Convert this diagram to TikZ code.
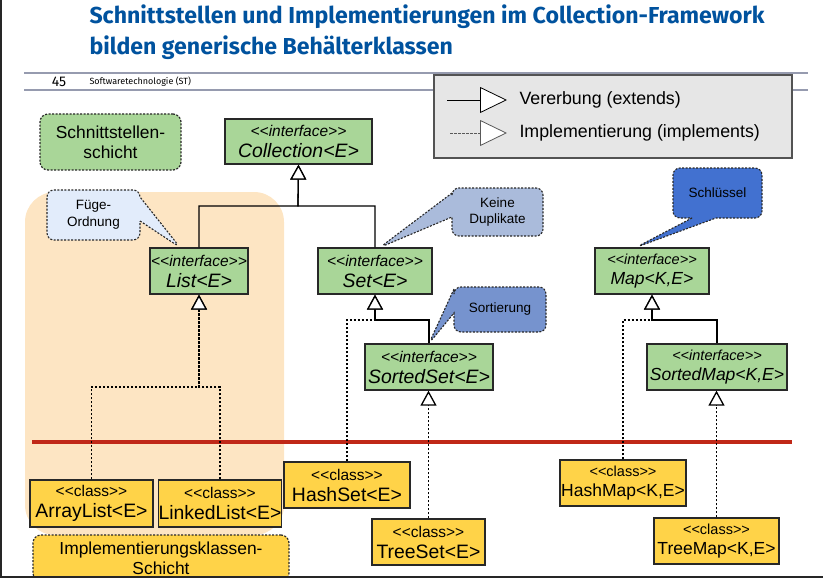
\documentclass[tikz,border=0pt]{standalone}
\usepackage{fontspec}
\setmainfont{Liberation Sans}[Ligatures=TeXOff]
\newfontfamily\headfont{Fira Sans}
\usetikzlibrary{arrows.meta,shapes.callouts}
\definecolor{tuBlue}{RGB}{0,82,158}
\definecolor{umlGreen}{RGB}{169,214,152}
\definecolor{umlYellow}{RGB}{255,211,72}
\definecolor{umlBorder}{RGB}{40,40,40}
\definecolor{layerPeach}{RGB}{253,229,195}
\definecolor{calLight}{RGB}{226,236,251}
\definecolor{calGray}{RGB}{170,187,219}
\definecolor{calMid}{RGB}{118,147,206}
\definecolor{calStrong}{RGB}{66,113,208}
\definecolor{layerRed}{RGB}{192,40,24}
\definecolor{legendGray}{RGB}{230,230,230}
\definecolor{headLine}{RGB}{150,155,175}
\newcommand{\stfont}{\fontsize{15.5}{21}\selectfont}
\newcommand{\nmfont}{\fontsize{19.4}{21}\selectfont}
\newcommand{\stmfont}{\fontsize{14.5}{20}\selectfont}
\newcommand{\nmmfont}{\fontsize{17.5}{20}\selectfont}

\begin{document}
\begin{tikzpicture}[
  x=1pt, y=-1pt,
  iface/.style={
    draw=umlBorder, line width=1.3pt, fill=umlGreen,
    inner sep=0pt, align=center, font=\itshape\stfont
  },
  cls/.style={
    draw=umlBorder, line width=1.3pt, fill=umlYellow,
    inner sep=0pt, align=center, font=\stfont
  },
  layer/.style={
    draw=umlBorder, dash pattern=on 2pt off 1.5pt, line width=1.2pt,
    rounded corners=8pt, inner sep=0pt, align=center,
    font=\fontsize{17.4}{20}\selectfont
  },
  note/.style={
    rectangle callout, draw=umlBorder, dash pattern=on 2pt off 1.5pt,
    line width=1.1pt, rounded corners=7pt, inner sep=0pt, align=center,
    callout pointer width=24pt, font=\fontsize{13.5}{16.5}\selectfont
  },
  ext/.style={-{Triangle[fill=white, length=15pt, width=16pt]},
    line width=1.3pt, draw=black},
  impl/.style={ext, dash pattern=on 2pt off 2pt},
]
\useasboundingbox (0,0) rectangle (823,578);
\clip (0,0) rectangle (823,578);

%% Slide header
\node[anchor=west, text=tuBlue, font=\headfont\bfseries\fontsize{23.1}{26}\selectfont]
  (title1) at (86,17) {Schnittstellen und Implementierungen im Collection-Framework};
\node[anchor=west, text=tuBlue, font=\headfont\bfseries\fontsize{23.1}{26}\selectfont]
  (title2) at (86,48) {bilden generische Behälterklassen};
\draw[headLine, line width=1.5pt] (24,73) -- (808,73);
\draw[headLine, line width=1.5pt] (24,90) -- (808,90);
\node[font=\headfont\fontsize{14}{16}\selectfont] (pageno) at (59,82) {45};
\node[anchor=west, font=\headfont\fontsize{9}{11}\selectfont] (course) at (86,82)
  {Softwaretechnologie (ST)};

%% Legend
\node[draw=umlBorder!80, line width=1.3pt, fill=legendGray, minimum width=358pt,
  minimum height=83pt, inner sep=0pt] (legend) at (613,116.5) {};
\coordinate (lg1a) at (447,100);
\coordinate (lg1b) at (507,100);
\coordinate (lg2a) at (450,133);
\coordinate (lg2b) at (507,133);
\draw[-{Triangle[fill=white, length=27pt, width=26pt]}, line width=0.8pt]
  (lg1a) -- (lg1b);
\draw[-{Triangle[fill=white, length=27pt, width=26pt]}, line width=0.8pt,
  draw=black!65, dash pattern=on 2.5pt off 1.5pt] (lg2a) -- (lg2b);
\node[anchor=west, font=\fontsize{17.8}{20}\selectfont] (lgext) at (516,100)
  {Vererbung (extends)};
\node[anchor=west, font=\fontsize{17.8}{20}\selectfont] (lgimpl) at (516,133)
  {Implementierung (implements)};

%% Layers
\node[fill=layerPeach, rounded corners=30pt, minimum width=259pt,
  minimum height=343pt, inner sep=0pt] (listbg) at (154.5,363.5) {};
\draw[layerRed, line width=4pt] (32,442) -- (792,442);
\node[layer, fill=umlGreen, minimum width=141pt, minimum height=56pt]
  (ifacelayer) at (110.5,142) {Schnittstellen-\\schicht};
\node[layer, fill=umlYellow, minimum width=256pt, minimum height=46pt]
  (impllayer) at (161,558) {Implementierungsklassen-\\Schicht};

%% Interfaces
\node[iface, minimum width=147pt, minimum height=45pt] (collection) at (298.5,141.5)
  {<<interface>>\\{\nmfont Collection<E>}};
\node[iface, minimum width=98pt, minimum height=46pt] (list) at (199,271)
  {<<interface>>\\{\nmfont List<E>}};
\node[iface, minimum width=114pt, minimum height=46pt] (set) at (375,271)
  {<<interface>>\\{\nmfont Set<E>}};
\node[iface, minimum width=128pt, minimum height=46pt] (sortedset) at (429,367)
  {<<interface>>\\{\nmfont SortedSet<E>}};
\node[iface, font=\itshape\stmfont, minimum width=114pt, minimum height=46pt]
  (map) at (652,271) {<<interface>>\\{\nmmfont Map<K,E>}};
\node[iface, font=\itshape\stmfont, minimum width=140pt, minimum height=46pt]
  (sortedmap) at (717,367) {<<interface>>\\{\nmmfont SortedMap<K,E>}};

%% Classes
\node[cls, minimum width=123pt, minimum height=47pt] (arraylist) at (91.5,503.5)
  {<<class>>\\{\nmfont ArrayList<E>}};
\node[cls, minimum width=122pt, minimum height=47pt] (linkedlist) at (220,503.5)
  {<<class>>\\{\nmfont LinkedList<E>}};
\node[cls, minimum width=126pt, minimum height=46pt] (hashset) at (347,485)
  {<<class>>\\{\nmfont HashSet<E>}};
\node[cls, minimum width=113pt, minimum height=46pt] (treeset) at (428.5,542)
  {<<class>>\\{\nmfont TreeSet<E>}};
\node[cls, font=\stmfont, minimum width=126pt, minimum height=46pt]
  (hashmap) at (623,483) {<<class>>\\{\nmmfont HashMap<K,E>}};
\node[cls, font=\stmfont, minimum width=125pt, minimum height=46pt]
  (treemap) at (716.5,541) {<<class>>\\{\nmmfont TreeMap<K,E>}};

%% Notes
\node[note, fill=calLight, minimum width=93pt, minimum height=50pt,
  callout absolute pointer={([xshift=-19pt]list.north)}] (fuege) at (93.5,215)
  {Füge-\\Ordnung};
\node[note, fill=calGray, minimum width=91pt, minimum height=48pt,
  callout absolute pointer={([xshift=5pt]set.north)}] (keine) at (497.5,212)
  {Keine\\Duplikate};
\node[note, fill=calMid, minimum width=92pt, minimum height=45pt,
  callout absolute pointer={(sortedset.north)}] (sortierung) at (500,309.5)
  {Sortierung};
\node[note, fill=calStrong, minimum width=89pt, minimum height=50pt,
  callout absolute pointer={([xshift=-16pt]map.north)}] (schluessel) at (717.5,193)
  {Schlüssel};

%% Junctions
\coordinate (jcoll) at (298,206);
\coordinate (jlist) at (199,387);
\coordinate (jset)  at (375,320);
\coordinate (jmap)  at (652,320);

%% Inheritance
\draw[impl] (arraylist.north) |- (jlist) -- (list.south);
\draw[impl] (linkedlist.north) |- (jlist) -- (list.south);
\draw[impl] (hashset.north) |- (jset) -- (set.south);
\draw[impl] (hashmap.north) |- (jmap) -- (map.south);
\draw[impl] (treeset.north) -- (treeset.north |- sortedset.south);
\draw[impl] (treemap.north) -- (treemap.north |- sortedmap.south);
\draw[ext] (list.north) |- (jcoll) -- (collection.south);
\draw[ext] (set.north) |- (jcoll) -- (collection.south);
\draw[ext] (sortedset.north) |- (jset) -- (set.south);
\draw[ext] (sortedmap.north) |- (jmap) -- (map.south);

%% Frame
\draw[black!85, line width=1.5pt] (1,0) -- (1,578);
\draw[black!85, line width=1.5pt] (0,577) -- (823,577);
\end{tikzpicture}
\end{document}
